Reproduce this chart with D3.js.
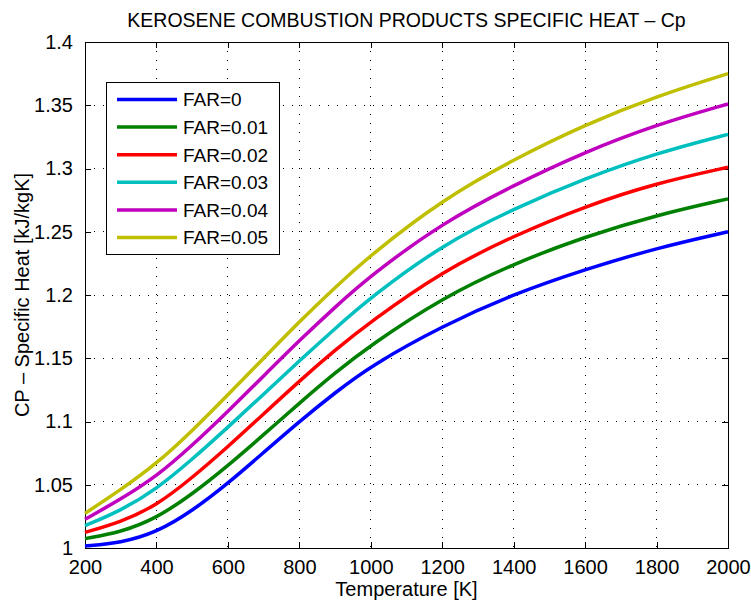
<!DOCTYPE html>
<html>
<head>
<meta charset="utf-8">
<script src="https://cdn.jsdelivr.net/npm/d3@7"></script>
<style>
  body { margin: 0; background: #fff; }
  text { font-family: "Liberation Sans", Arial, Helvetica, sans-serif; fill: #000; }
</style>
</head>
<body>
<div id="chart"></div>
<script>
// temperatures [K]
var temps = [200, 300, 400, 500, 600, 700, 800, 900, 1000, 1200, 1400, 1600, 1800, 2000];

// Cp values, one array per FAR
var far0    = [1.0016, 1.004, 1.0122, 1.0292, 1.051, 1.0755, 1.100, 1.1228, 1.144, 1.1755, 1.2008, 1.2202, 1.2372, 1.250];
var far001  = [1.0074, 1.0125, 1.0235, 1.0425, 1.065, 1.0895, 1.1145, 1.1385, 1.1605, 1.1978, 1.2248, 1.2462, 1.2632, 1.276];
var far002  = [1.0124, 1.0205, 1.0335, 1.0555, 1.080, 1.106, 1.132, 1.1565, 1.179, 1.2188, 1.2468, 1.2702, 1.2885, 1.301];
var far003  = [1.0176, 1.0295, 1.0465, 1.070, 1.0955, 1.1215, 1.148, 1.1735, 1.1982, 1.2398, 1.2682, 1.2922, 1.3122, 1.327];
var far004  = [1.0227, 1.0385, 1.0565, 1.081, 1.108, 1.136, 1.164, 1.1905, 1.2155, 1.257, 1.2868, 1.3132, 1.3347, 1.351];
var far005  = [1.0274, 1.046, 1.0665, 1.0925, 1.121, 1.150, 1.179, 1.206, 1.2318, 1.2753, 1.3072, 1.3347, 1.3572, 1.375];

var seriesNames = ["FAR=0", "FAR=0.01", "FAR=0.02", "FAR=0.03", "FAR=0.04", "FAR=0.05"];
var seriesVals = [far0, far001, far002, far003, far004, far005];
var colors = ["#0000ff", "#008000", "#ff0000", "#00bfbf", "#bf00bf", "#bfbf00"];

var xTicks = [200, 400, 600, 800, 1000, 1200, 1400, 1600, 1800, 2000];
var yTicks = [1, 1.05, 1.1, 1.15, 1.2, 1.25, 1.3, 1.35, 1.4];

var svgWidth = 751;
var svgHeight = 604;

// plot box
var margin = { top: 42, right: 23, bottom: 56, left: 85 };
var chartWidth = svgWidth - margin.left - margin.right;
var chartHeight = svgHeight - margin.top - margin.bottom;

var svg = d3.select("#chart").append("svg")
  .attr("width", svgWidth)
  .attr("height", svgHeight);

var chartGroup = svg.append("g")
  .attr("transform", `translate(${margin.left}, ${margin.top})`);

var xScale = d3.scaleLinear().domain([200, 2000]).range([0, chartWidth]);
var yScale = d3.scaleLinear().domain([1, 1.4]).range([chartHeight, 0]);

// dotted grid
chartGroup.append("g").selectAll("line")
  .data(xTicks.slice(1, -1))
  .enter().append("line")
  .attr("x1", d => xScale(d)).attr("x2", d => xScale(d))
  .attr("y1", 0).attr("y2", chartHeight)
  .attr("stroke", "#000").attr("stroke-width", 1)
  .attr("stroke-dasharray", "1,8")
  .attr("shape-rendering", "crispEdges");

chartGroup.append("g").selectAll("line")
  .data(yTicks.slice(1, -1))
  .enter().append("line")
  .attr("x1", 0).attr("x2", chartWidth)
  .attr("y1", d => yScale(d)).attr("y2", d => yScale(d))
  .attr("stroke", "#000").attr("stroke-width", 1)
  .attr("stroke-dasharray", "1,8")
  .attr("shape-rendering", "crispEdges");

// axes, ticks pointing inward like matlab
var bottomAxis = d3.axisBottom(xScale).tickValues(xTicks).tickSize(-6).tickPadding(12).tickFormat(d3.format("d"));
var leftAxis = d3.axisLeft(yScale).tickValues(yTicks).tickSize(-6).tickPadding(12).tickFormat(d => d3.format("")(+d.toFixed(2)));
var topAxis = d3.axisTop(xScale).tickValues(xTicks).tickSize(-6).tickFormat("");
var rightAxis = d3.axisRight(yScale).tickValues(yTicks).tickSize(-6).tickFormat("");

chartGroup.append("g").attr("class", "axis")
  .attr("transform", `translate(0, ${chartHeight})`)
  .call(bottomAxis);
chartGroup.append("g").attr("class", "axis").call(leftAxis);
chartGroup.append("g").attr("class", "axis").call(topAxis);
chartGroup.append("g").attr("class", "axis")
  .attr("transform", `translate(${chartWidth}, 0)`)
  .call(rightAxis);

chartGroup.selectAll(".axis path").attr("stroke", "#000").attr("shape-rendering", "crispEdges");
chartGroup.selectAll(".axis line").attr("stroke", "#000").attr("shape-rendering", "crispEdges");
chartGroup.selectAll(".axis text")
  .style("font-family", '"Liberation Sans", Arial, sans-serif')
  .style("font-size", "20px")
  .attr("fill", "#000");

// curves (b-spline through the read values to keep it smooth)
var line = d3.line()
  .x(d => xScale(d[0]))
  .y(d => yScale(d[1]))
  .curve(d3.curveBasis);

seriesVals.forEach(function(vals, i) {
  var pts = temps.map((t, j) => [t, vals[j]]);
  chartGroup.append("path")
    .datum(pts)
    .attr("fill", "none")
    .attr("stroke", colors[i])
    .attr("stroke-width", 3.5)
    .attr("d", line);
});

// legend
var legend = svg.append("g").attr("transform", "translate(106, 82)");
legend.append("rect")
  .attr("x", 0.5).attr("y", 0.5)
  .attr("width", 173).attr("height", 172)
  .attr("fill", "#fff").attr("stroke", "#000").attr("stroke-width", 1);

seriesNames.forEach(function(name, i) {
  var yy = 17.5 + i * 27.6;
  legend.append("line")
    .attr("x1", 11).attr("x2", 71)
    .attr("y1", yy).attr("y2", yy)
    .attr("stroke", colors[i]).attr("stroke-width", 3.5);
  legend.append("text")
    .attr("x", 77).attr("y", yy)
    .attr("dy", "0.36em")
    .style("font-size", "19px")
    .text(name);
});

// titles
svg.append("text")
  .attr("x", margin.left + chartWidth / 2)
  .attr("y", 27)
  .attr("text-anchor", "middle")
  .style("font-size", "19.5px")
  .text("KEROSENE COMBUSTION PRODUCTS SPECIFIC HEAT \u2013 Cp");

svg.append("text")
  .attr("x", margin.left + chartWidth / 2)
  .attr("y", 596)
  .attr("text-anchor", "middle")
  .style("font-size", "20px")
  .text("Temperature [K]");

svg.append("text")
  .attr("transform", `translate(29, ${margin.top + chartHeight / 2}) rotate(-90)`)
  .attr("text-anchor", "middle")
  .style("font-size", "20px")
  .text("CP \u2013 Specific Heat [kJ/kgK]");
</script>
</body>
</html>
